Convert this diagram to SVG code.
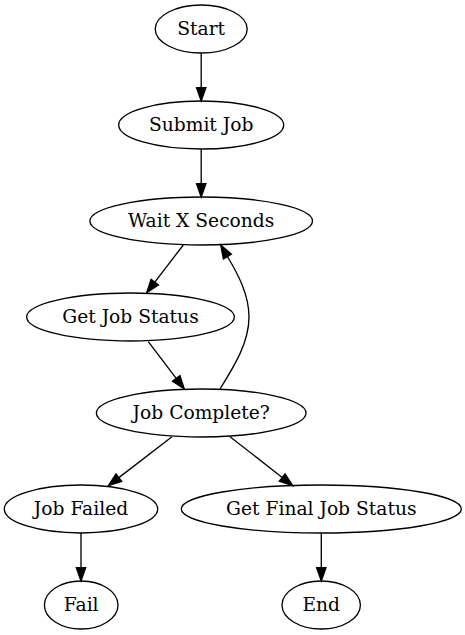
<svg xmlns="http://www.w3.org/2000/svg" width="465" height="635" viewBox="0 0 465 635">
<style>
.n ellipse{fill:none;stroke:#000;stroke-width:1.33}
.n text{font-family:"DejaVu Serif",serif;font-size:18.67px;text-anchor:middle;fill:#000}
.e path{fill:none;stroke:#000;stroke-width:1.33}
.e polygon{fill:#000;stroke:#000;stroke-width:1.33}
</style>
<rect width="465" height="635" fill="#fff"/>
<g class="e" id="edges">
<path d="M201.2,53 L201.2,87.7"/><polygon points="201.2,101 196.5,87.7 205.9,87.7"/>
<path d="M201.2,149 L201.2,183.7"/><polygon points="201.2,197 196.5,183.7 205.9,183.7"/>
<path d="M183.3,245 L154.8,282.1"/><polygon points="146.7,292.7 158.5,284.9 151.1,279.3"/>
<path d="M148.3,341.7 L176.2,378.4"/><polygon points="184.3,389 179.9,375.6 172.5,381.2"/>
<path d="M220,389 C235,365 249,342 249,317 C249,295 238,274 227.4,256.5"/><polygon points="220.7,245 231.4,254.1 223.4,258.9"/>
<path d="M172,436.7 L118.9,477.6"/><polygon points="108.3,485.7 121.7,481.3 116,473.9"/>
<path d="M230,436.7 L282.2,477.5"/><polygon points="292.7,485.7 285.1,473.8 279.3,481.2"/>
<path d="M81,533 L81,567.7"/><polygon points="81,581 76.3,567.7 85.7,567.7"/>
<path d="M321.3,533 L321.3,567.7"/><polygon points="321.3,581 316.6,567.7 326,567.7"/>
</g>
<g class="n" id="start"><ellipse cx="201.2" cy="29" rx="46" ry="24"/><text x="201.2" y="34.5">Start</text></g>
<g class="n" id="submit"><ellipse cx="201.2" cy="125" rx="82.5" ry="24"/><text x="201.2" y="130.5">Submit Job</text></g>
<g class="n" id="wait"><ellipse cx="201.2" cy="221" rx="111.3" ry="24"/><text x="201.2" y="226.5">Wait X Seconds</text></g>
<g class="n" id="status"><ellipse cx="130.5" cy="317" rx="103.8" ry="24"/><text x="130.5" y="322.5">Get Job Status</text></g>
<g class="n" id="complete"><ellipse cx="201.2" cy="413" rx="104.8" ry="24"/><text x="201.2" y="418.5">Job Complete?</text></g>
<g class="n" id="failed"><ellipse cx="81" cy="509" rx="76.7" ry="24"/><text x="81" y="514.5">Job Failed</text></g>
<g class="n" id="final"><ellipse cx="321.3" cy="509" rx="140" ry="24"/><text x="321.3" y="514.5">Get Final Job Status</text></g>
<g class="n" id="fail"><ellipse cx="81.2" cy="605" rx="36.8" ry="24"/><text x="81.2" y="610.5">Fail</text></g>
<g class="n" id="end"><ellipse cx="321.2" cy="605" rx="39.2" ry="24"/><text x="321.2" y="610.5">End</text></g>
</svg>
